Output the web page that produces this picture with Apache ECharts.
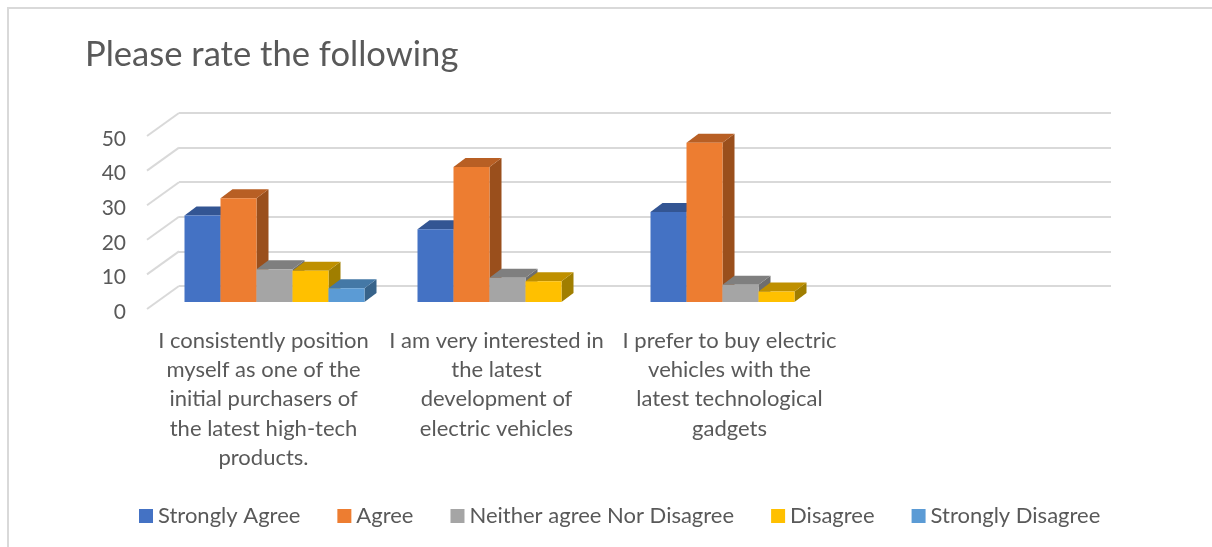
<!DOCTYPE html>
<html><head><meta charset="utf-8">
<style>html,body{margin:0;padding:0;background:#fff}#c{width:1212px;height:547px}</style>
<script src="https://cdn.jsdelivr.net/npm/echarts@6/dist/echarts.min.js"></script>
</head><body><div id="c"></div>
<script>
const titleText = 'Please rate the following';
const categories = [
  'I consistently position\nmyself as one of the\ninitial purchasers of\nthe latest high-tech\nproducts.',
  'I am very interested in\nthe latest\ndevelopment of\nelectric vehicles',
  'I prefer to buy electric\nvehicles with the\nlatest technological\ngadgets',
  ''
];
const seriesNames = ['Strongly Agree','Agree','Neither agree Nor Disagree','Disagree','Strongly Disagree'];
const stronglyAgree = [25, 21, 26, null];
const agree = [30, 39, 46, null];
const neither = [9.5, 7, 5, null];
const disagree = [9, 6, 3, null];
const stronglyDisagree = [4, null, null, null];
const yTicks = [0, 10, 20, 30, 40, 50];

const seriesValues = [stronglyAgree, agree, neither, disagree, stronglyDisagree];
const frontColors = ['#4472C4','#ED7D31','#A5A5A5','#FFC000','#5B9BD5'];
const topColors = ['#335593','#B85F24','#7F7F7F','#BF9000','#4478A6'];
const sideColors = ['#2A4A80','#9A4F1C','#6E6E6E','#A07E00','#37638A'];
const FONT = 'Lato';
const TXT = '#595959';
const GRIDC = '#D9D9D9';
const BAR_DX = 12, BAR_DY = 9, WALL_DX = 32, WALL_DY = 23;

function barRenderer(si) {
  return function (params, api) {
    const v = api.value(1);
    if (v == null || isNaN(v)) return;
    const top = api.coord([api.value(0), v]);
    const base = api.coord([api.value(0), 0]);
    const w = api.size([1, 0])[0] * 36 / 233;
    const x0 = top[0] - 2.5 * w + si * w, x1 = x0 + w, yt = top[1], yb = base[1];
    return { type: 'group', children: [
      { type: 'polygon', shape: { points: [[x1,yt],[x1+BAR_DX,yt-BAR_DY],[x1+BAR_DX,yb-BAR_DY],[x1,yb]] }, style: { fill: sideColors[si] } },
      { type: 'polygon', shape: { points: [[x0,yt],[x0+BAR_DX,yt-BAR_DY],[x1+BAR_DX,yt-BAR_DY],[x1,yt]] }, style: { fill: topColors[si] } },
      { type: 'rect', shape: { x: x0, y: yt, width: w, height: yb - yt }, style: { fill: frontColors[si] } }
    ]};
  };
}
function wallRenderer(params, api) {
  const p = api.coord([0, api.value(0)]);
  const left = params.coordSys.x;
  return { type: 'line', shape: { x1: left, y1: p[1], x2: left - WALL_DX, y2: p[1] + WALL_DY },
           style: { stroke: GRIDC, lineWidth: 2 } };
}
const chart = echarts.init(document.getElementById('c'), null, { renderer: 'canvas' });
chart.setOption({
  animation: false,
  backgroundColor: '#fff',
  title: { text: titleText, left: 80, top: 32, textStyle: { fontFamily: FONT, fontSize: 34.6, fontWeight: 'normal', color: TXT } },
  legend: {
    data: seriesNames, left: 134, top: 500, itemWidth: 14, itemHeight: 14, itemGap: 37, icon: 'rect',
    textStyle: { fontFamily: FONT, fontSize: 22, color: TXT }
  },
  grid: [
    { left: 179, top: 113, width: 932, height: 173 },  // back wall
    { left: 147, top: 139, width: 932, height: 173 },  // front edge: labels
    { left: 158, top: 129, width: 932, height: 173 }   // bar plane
  ],
  xAxis: [
    { gridIndex: 0, type: 'category', data: categories, show: false },
    { gridIndex: 1, type: 'category', data: categories,
      axisLine: { show: false }, axisTick: { show: false },
      axisLabel: { interval: 0, margin: 14, fontFamily: FONT, fontSize: 22, color: TXT, lineHeight: 29.3, align: 'center' } },
    { gridIndex: 2, type: 'category', data: categories, show: false }
  ],
  yAxis: [
    { gridIndex: 0, type: 'value', min: 0, max: 50, interval: 10,
      axisLine: { show: false }, axisTick: { show: false }, axisLabel: { show: false },
      splitLine: { show: true, lineStyle: { color: GRIDC, width: 2 } } },
    { gridIndex: 1, type: 'value', min: 0, max: 50, interval: 10,
      axisLine: { show: false }, axisTick: { show: false }, splitLine: { show: false },
      axisLabel: { margin: 21, fontFamily: FONT, fontSize: 21, color: TXT } },
    { gridIndex: 2, type: 'value', min: 0, max: 50, interval: 10, show: false, splitLine: { show: false } }
  ],
  graphic: [
    { type: 'polyline', silent: true, z: -1, shape: { points: [[8, 547],[8, 8],[1212, 8]] }, style: { stroke: GRIDC, lineWidth: 2, fill: null } }
  ],
  series: [
    { type: 'custom', name: 'walls', xAxisIndex: 0, yAxisIndex: 0, renderItem: wallRenderer, data: yTicks.map(v => [v]), encode: { y: 0 }, silent: true, legendHoverLink: false, tooltip: { show: false } },
    ...seriesNames.map((name, si) => ({
      type: 'custom', name, xAxisIndex: 2, yAxisIndex: 2, renderItem: barRenderer(si),
      itemStyle: { color: frontColors[si] },
      encode: { x: 0, y: 1 },
      data: seriesValues[si].map((v, i) => [i, v])
    }))
  ]
});
</script></body></html>
